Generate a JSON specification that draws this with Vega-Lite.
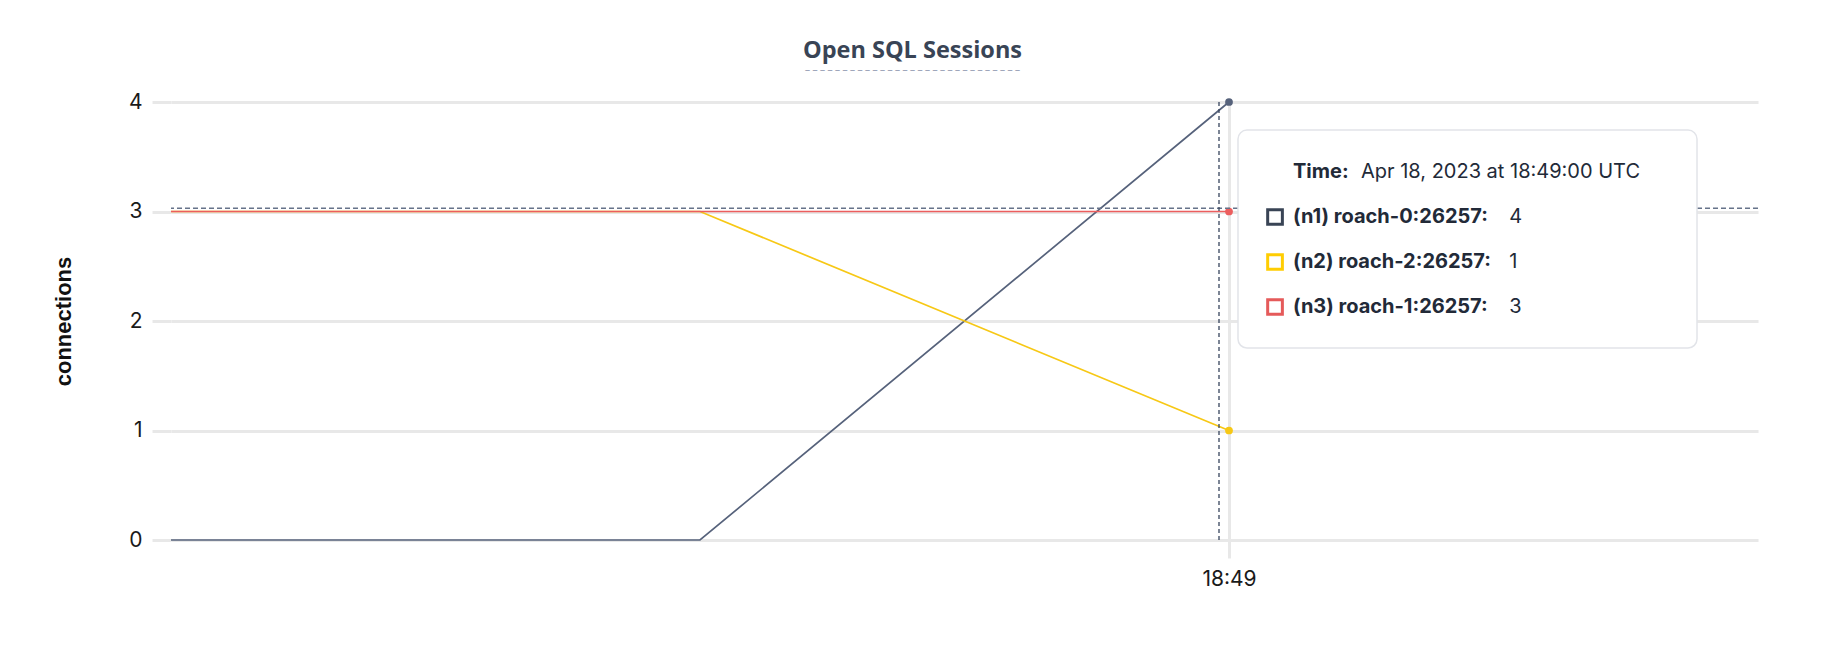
{
  "$schema": "https://vega.github.io/schema/vega-lite/v6.json",
  "width": 1587,
  "height": 438,
  "autosize": {"type": "none"},
  "padding": {"left": 171, "top": 102, "right": 81, "bottom": 119},
  "background": "white",
  "title": {
    "text": "Open SQL Sessions",
    "subtitle": "– – – – – – – – – – – – – – – – – – – – – – – – – – – – –",
    "anchor": "middle",
    "frame": "group",
    "dx": -52,
    "offset": 16,
    "font": "Open Sans",
    "fontSize": 23.5,
    "fontWeight": "bold",
    "color": "#394455",
    "subtitleFont": "Liberation Sans",
    "subtitleFontSize": 9,
    "subtitleFontWeight": "bold",
    "subtitleColor": "#9ea6ba",
    "subtitlePadding": 4
  },
  "datasets": {
    "sessions": [
      {"time": "2023-04-18T18:48:40Z", "series": "(n1) roach-0:26257", "value": 0},
      {"time": "2023-04-18T18:48:50Z", "series": "(n1) roach-0:26257", "value": 0},
      {"time": "2023-04-18T18:49:00Z", "series": "(n1) roach-0:26257", "value": 4},
      {"time": "2023-04-18T18:48:40Z", "series": "(n2) roach-2:26257", "value": 3},
      {"time": "2023-04-18T18:48:50Z", "series": "(n2) roach-2:26257", "value": 3},
      {"time": "2023-04-18T18:49:00Z", "series": "(n2) roach-2:26257", "value": 1},
      {"time": "2023-04-18T18:48:40Z", "series": "(n3) roach-1:26257", "value": 3},
      {"time": "2023-04-18T18:48:50Z", "series": "(n3) roach-1:26257", "value": 3},
      {"time": "2023-04-18T18:49:00Z", "series": "(n3) roach-1:26257", "value": 3}
    ],
    "tip": [
      {"row": 0, "label": "Time:", "text": "Apr 18, 2023 at 18:49:00 UTC", "series": null},
      {"row": 1, "label": "(n1) roach-0:26257:", "text": "4", "series": "(n1) roach-0:26257"},
      {"row": 2, "label": "(n2) roach-2:26257:", "text": "1", "series": "(n2) roach-2:26257"},
      {"row": 3, "label": "(n3) roach-1:26257:", "text": "3", "series": "(n3) roach-1:26257"}
    ]
  },
  "layer": [
    {
      "layer": [
        {
          "data": {"name": "sessions"},
          "mark": {"type": "line", "strokeWidth": 1.7},
          "encoding": {
            "x": {
              "field": "time",
              "type": "temporal",
              "scale": {
                "type": "utc",
                "nice": false,
                "domain": [
                  {"year": 2023, "month": 4, "date": 18, "hours": 18, "minutes": 48, "seconds": 40, "utc": true},
                  {"year": 2023, "month": 4, "date": 18, "hours": 18, "minutes": 49, "seconds": 10, "utc": true}
                ]
              },
              "axis": {
                "title": null,
                "values": [{"year": 2023, "month": 4, "date": 18, "hours": 18, "minutes": 49, "utc": true}],
                "format": "%H:%M",
                "grid": true,
                "gridColor": "#e8e8e8",
                "gridWidth": 3,
                "domain": false,
                "ticks": true,
                "tickSize": 18,
                "tickColor": "#e8e8e8",
                "tickWidth": 3,
                "labelPadding": 10,
                "labelFont": "Inter",
                "labelFontSize": 21,
                "labelColor": "#1a1a1a"
              }
            },
            "y": {
              "field": "value",
              "type": "quantitative",
              "scale": {"domain": [0, 4], "nice": false, "zero": true},
              "axis": {
                "title": "connections",
                "values": [0, 1, 2, 3, 4],
                "format": "d",
                "grid": true,
                "gridColor": "#e8e8e8",
                "gridWidth": 3,
                "domain": false,
                "ticks": true,
                "tickSize": 19,
                "tickColor": "#e8e8e8",
                "tickWidth": 3,
                "labelPadding": 10,
                "labelFont": "Inter",
                "labelFontSize": 21,
                "labelColor": "#1a1a1a",
                "titleFont": "Liberation Sans",
                "titleFontSize": 22,
                "titleFontWeight": "bold",
                "titleColor": "#111111",
                "titlePadding": 53
              }
            },
            "color": {
              "field": "series",
              "type": "nominal",
              "scale": {
                "domain": ["(n1) roach-0:26257", "(n2) roach-2:26257", "(n3) roach-1:26257"],
                "range": ["#56627b", "#f7c815", "#ec5e5e"]
              },
              "legend": null
            }
          }
        },
        {
          "data": {"name": "sessions"},
          "transform": [{"filter": "time(datum.time) === 1681843740000"}],
          "mark": {"type": "point", "filled": true, "size": 60, "opacity": 1},
          "encoding": {
            "x": {"field": "time", "type": "temporal"},
            "y": {"field": "value", "type": "quantitative"},
            "color": {"field": "series", "type": "nominal", "legend": null}
          }
        },
        {
          "data": {"values": [{}]},
          "mark": {"type": "rule", "color": "#66738a", "strokeWidth": 1.4, "strokeDash": [5, 3]},
          "encoding": {"y": {"datum": 3.03, "type": "quantitative"}}
        },
        {
          "data": {"values": [{}]},
          "mark": {"type": "rule", "color": "#36445c", "strokeWidth": 1.3, "strokeDash": [4, 3]},
          "encoding": {
            "x": {"datum": {"year": 2023, "month": 4, "date": 18, "hours": 18, "minutes": 48, "seconds": 59, "milliseconds": 811, "utc": true}, "type": "temporal"}
          }
        }
      ]
    },
    {
      "layer": [
        {
          "data": {"values": [{}]},
          "mark": {"type": "rect", "fill": "white", "stroke": "#e2e4e9", "strokeWidth": 1.5, "cornerRadius": 9},
          "encoding": {
            "x": {"datum": {"year": 2023, "month": 4, "date": 18, "hours": 18, "minutes": 49, "seconds": 0, "milliseconds": 170, "utc": true}, "type": "temporal"},
            "x2": {"datum": {"year": 2023, "month": 4, "date": 18, "hours": 18, "minutes": 49, "seconds": 8, "milliseconds": 847, "utc": true}},
            "y": {"datum": -0.933, "type": "quantitative", "scale": {"domain": [-1.556, 8.178], "nice": false, "zero": false, "reverse": true}, "axis": null},
            "y2": {"datum": 3.911}
          }
        },
        {
          "data": {"name": "tip"},
          "transform": [{"filter": "datum.series != null"}],
          "mark": {"type": "point", "shape": "square", "filled": false, "size": 216, "strokeWidth": 3, "opacity": 1},
          "encoding": {
            "x": {"datum": {"year": 2023, "month": 4, "date": 18, "hours": 18, "minutes": 49, "seconds": 0, "milliseconds": 870, "utc": true}, "type": "temporal"},
            "y": {"field": "row", "type": "quantitative", "axis": null},
            "stroke": {
              "field": "series",
              "type": "nominal",
              "scale": {
                "domain": ["(n1) roach-0:26257", "(n2) roach-2:26257", "(n3) roach-1:26257"],
                "range": ["#394455", "#ffcd02", "#e55a5a"]
              },
              "legend": null
            }
          }
        },
        {
          "data": {"name": "tip"},
          "mark": {"type": "text", "align": "left", "baseline": "middle", "font": "Inter", "fontSize": 20, "fontWeight": "bold", "color": "#222a38"},
          "encoding": {
            "x": {"datum": {"year": 2023, "month": 4, "date": 18, "hours": 18, "minutes": 49, "seconds": 1, "milliseconds": 210, "utc": true}, "type": "temporal"},
            "y": {"field": "row", "type": "quantitative", "axis": null},
            "text": {"field": "label", "type": "nominal"}
          }
        },
        {
          "data": {"name": "tip"},
          "transform": [{"filter": "datum.series != null"}],
          "mark": {"type": "text", "align": "left", "baseline": "middle", "font": "Inter", "fontSize": 20, "color": "#222a38"},
          "encoding": {
            "x": {"datum": {"year": 2023, "month": 4, "date": 18, "hours": 18, "minutes": 49, "seconds": 5, "milliseconds": 300, "utc": true}, "type": "temporal"},
            "y": {"field": "row", "type": "quantitative", "axis": null},
            "text": {"field": "text", "type": "nominal"}
          }
        },
        {
          "data": {"name": "tip"},
          "transform": [{"filter": "datum.series == null"}],
          "mark": {"type": "text", "align": "left", "baseline": "middle", "font": "Inter", "fontSize": 20, "color": "#222a38"},
          "encoding": {
            "x": {"datum": {"year": 2023, "month": 4, "date": 18, "hours": 18, "minutes": 49, "seconds": 2, "milliseconds": 495, "utc": true}, "type": "temporal"},
            "y": {"field": "row", "type": "quantitative", "axis": null},
            "text": {"field": "text", "type": "nominal"}
          }
        }
      ]
    }
  ],
  "resolve": {"scale": {"y": "independent"}},
  "config": {
    "view": {"stroke": null},
    "font": "Inter"
  }
}
